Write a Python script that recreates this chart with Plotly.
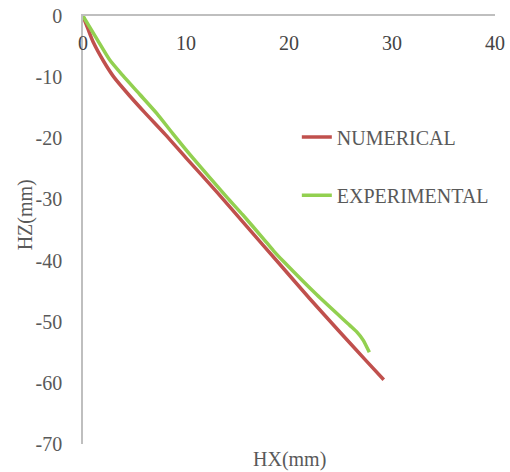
import plotly.graph_objects as go

num_x = [0, 0.5, 1.0, 2.0, 3.0, 4.5, 6.0, 8.0, 10.0, 13.0, 16.0, 19.0, 22.0, 25.0, 27.5, 29.2]
num_y = [0, -2.2, -4.3, -7.4, -10.0, -13.0, -15.8, -19.4, -23.2, -28.8, -34.6, -40.4, -46.2, -51.8, -56.4, -59.5]

exp_x = [0, 1.4, 2.6, 3.9, 5.5, 7.2, 8.7, 10.7, 14.0, 15.5, 17.5, 18.5, 19.5, 22.7, 25.9, 26.6, 27.2, 27.8]
exp_y = [0, -3.9, -7.2, -9.8, -12.8, -16.0, -19.2, -23.3, -29.7, -32.5, -36.4, -38.4, -40.2, -45.6, -50.6, -51.7, -53.0, -55.0]

x_ticks = [0, 10, 20, 30, 40]
x_labels = ["0", "10", "20", "30", "40"]
y_ticks = [0, -10, -20, -30, -40, -50, -60, -70]
y_labels = ["0", "-10", "-20", "-30", "-40", "-50", "-60", "-70"]

FONT = "Liberation Serif, Times New Roman, serif"
TXT = "#595959"
AX = "#bfbfbf"

fig = go.Figure()
fig.add_trace(go.Scatter(x=num_x, y=num_y, mode="lines", name="NUMERICAL",
                         line=dict(color="#C0504D", width=3.5, shape="spline", smoothing=0.6),
                         legend="legend", showlegend=True))
fig.add_trace(go.Scatter(x=exp_x, y=exp_y, mode="lines", name="EXPERIMENTAL",
                         line=dict(color="#92D050", width=3.5, shape="spline", smoothing=0.6),
                         legend="legend2", showlegend=True))

fig.update_layout(
    width=510, height=472,
    margin=dict(l=83, r=15, t=16, b=28),
    showlegend=True,
    paper_bgcolor="white", plot_bgcolor="white",
    font=dict(family=FONT, size=20, color=TXT),
    xaxis=dict(range=[0, 40], side="top", tickvals=x_ticks, ticktext=x_labels, ticks="",
               ticklabelposition="inside", ticklabeloverflow="allow",
               ticklabelstandoff=21, automargin=False,
               showline=True, linecolor=AX, linewidth=1.5,
               showgrid=False, zeroline=False),
    yaxis=dict(range=[-70, 0], tickvals=y_ticks, ticktext=y_labels, ticks="",
               ticklabelstandoff=15, automargin=False,
               showline=True, linecolor=AX, linewidth=1.5,
               showgrid=False, zeroline=False),
    legend=dict(x=0.519, y=0.717, xanchor="left", yanchor="middle",
                bgcolor="rgba(0,0,0,0)", font=dict(size=20, color=TXT, family=FONT)),
    legend2=dict(x=0.519, y=0.581, xanchor="left", yanchor="middle",
                 bgcolor="rgba(0,0,0,0)", font=dict(size=20, color=TXT, family=FONT)),
    annotations=[
        dict(text="HZ(mm)", xref="paper", yref="paper", x=-0.14, y=0.535,
             xanchor="center", yanchor="middle", textangle=-90, showarrow=False,
             font=dict(size=20, color=TXT, family=FONT)),
        dict(text="HX(mm)", xref="paper", yref="paper", x=0.5, y=-0.037,
             xanchor="center", yanchor="middle", showarrow=False,
             font=dict(size=20, color=TXT, family=FONT)),
    ],
)

fig.write_html("out.html")
